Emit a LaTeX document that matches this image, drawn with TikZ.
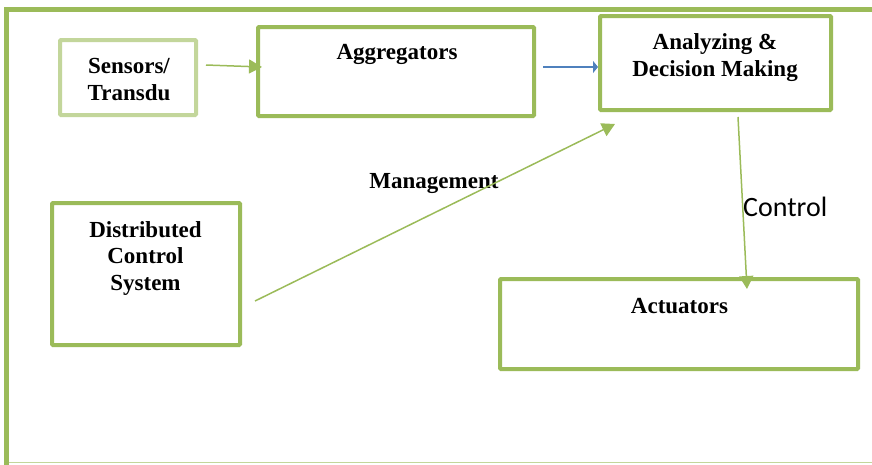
\documentclass[tikz,border=0pt]{standalone}
\usepackage{fontspec}
\setmainfont{Liberation Serif}
\newfontfamily\labelsans{Carlito}
\usetikzlibrary{arrows.meta,calc}
\definecolor{olive}{HTML}{9BBB59}
\definecolor{olivelight}{HTML}{C3D69B}
\definecolor{officeblue}{HTML}{4F81BD}
\tikzset{
  box/.style={draw=olive, line width=4pt, rounded corners=1pt, fill=white,
    inner sep=0pt, outer sep=0pt},
  lightbox/.style={box, draw=olivelight},
  % multi-line titles are placed by the baseline of their last line
  boxtext/.style={font=\bfseries\fontsize{23}{26.5}\selectfont, align=center,
    inner sep=0pt, anchor=base},
  flow/.style={draw=olive, line width=1.5pt,
    -{Triangle[length=13pt,width=14pt]}},
  blueflow/.style={draw=officeblue, line width=1.5pt,
    -{Triangle[length=5pt,width=12pt]}},
}
\begin{document}
\begin{tikzpicture}[x=1pt,y=-1pt]
\useasboundingbox (0,0) rectangle (872,464);

% outer frame
\draw[olive, line width=5pt] (872,9.5) -- (6.5,9.5) -- (6.5,470);
\draw[olivelight, line width=1.5pt] (9,462.7) -- (872,462.7);

% connector end points
\coordinate (aggout) at (543,67);
\coordinate (anain) at (598,67);

\draw[blueflow] (aggout) -- (anain);

% blocks
\node[lightbox, minimum width=136pt, minimum height=75pt] (sens) at (128,77.5) {};
\node[box, minimum width=276pt, minimum height=89pt] (agg) at (396,71.5) {};
\node[box, minimum width=231pt, minimum height=94pt] (ana) at (715.5,63) {};
\node[box, minimum width=188pt, minimum height=142pt] (dcs) at (146,274) {};
\node[box, minimum width=358pt, minimum height=90pt] (act) at (679,324) {};

% block titles
\node[boxtext] (senst) at (129,100) {Sensors/\\Transdu};
\node[boxtext] (aggt) at (397,59) {Aggregators};
\node[boxtext] (anat) at (715,76) {Analyzing \&\\Decision Making};
\node[boxtext] (dcst) at (145.5,290) {Distributed\\Control\\System};
\node[boxtext] (actt) at (679.5,313) {Actuators};

% connector labels
\node[boxtext] (mgmt) at (434,188) {Management};
\node[font=\labelsans\fontsize{28}{32}\selectfont, inner sep=0pt, anchor=base west]
  (ctrl) at (743,216) {Control};

% more connector end points
\coordinate (sensout) at (206,65);
\coordinate (aggin) at (262,67);
\coordinate (dcsout) at (255,301);
\coordinate (anacorner) at (615,124);
\coordinate (anaout) at (738,117);
\coordinate (actin) at (747,289);

% connectors
\draw[flow] (sensout) -- (aggin);
\draw[flow] (dcsout) -- (anacorner);
\draw[flow] (anaout) -- (actin);
\end{tikzpicture}
\end{document}
